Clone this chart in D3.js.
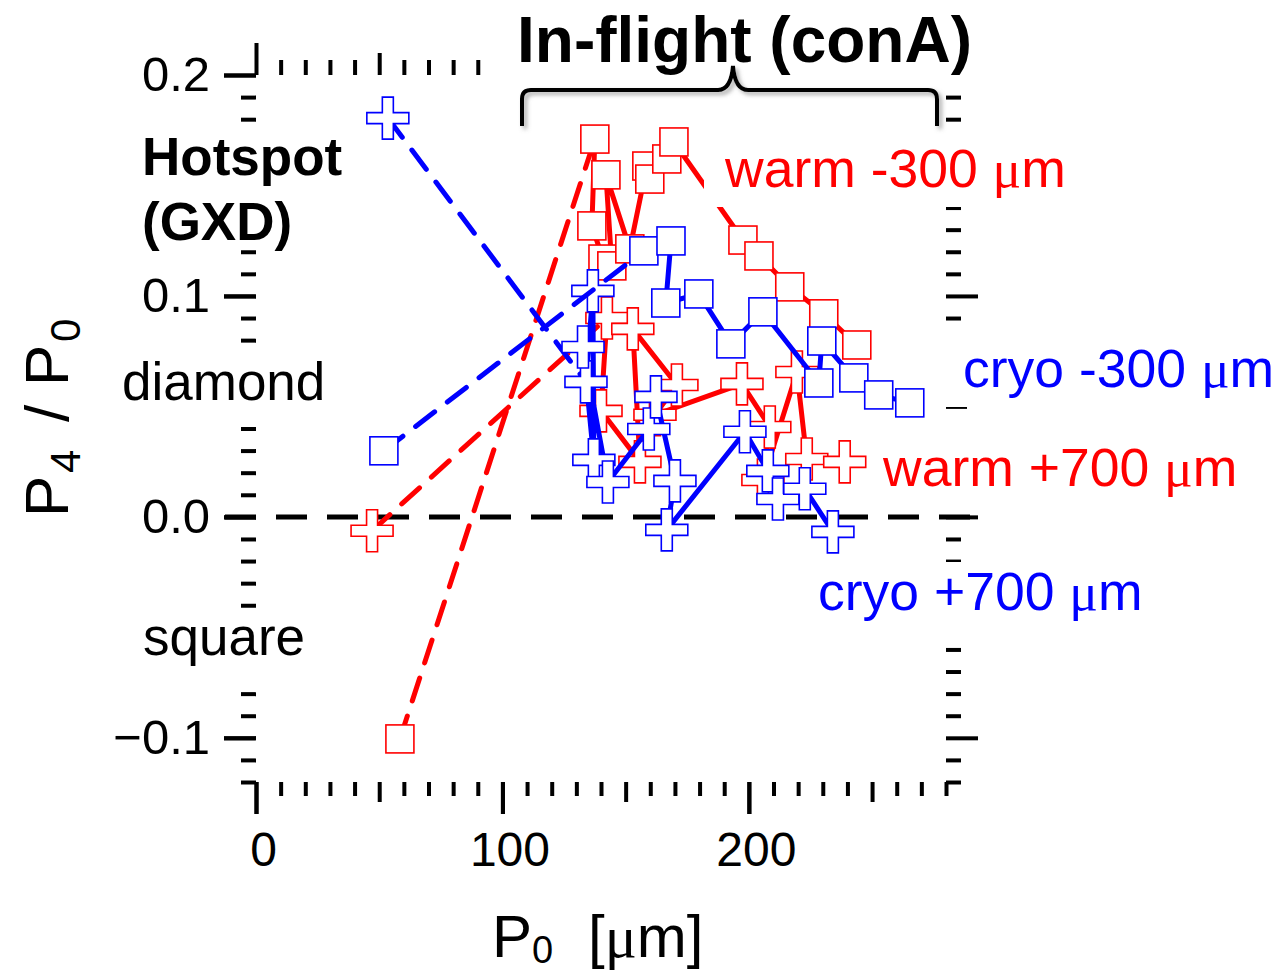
<!DOCTYPE html>
<html>
<head>
<meta charset="utf-8">
<script src="https://cdn.jsdelivr.net/npm/d3@7"></script>
<style>
  body { margin: 0; background: #fff; }
  svg { display: block; }
</style>
</head>
<body>
<svg id="chart" width="1278" height="973"></svg>
<script>
// P0 [um] and P4/P0 per series. Index 0 is the hotspot (GXD) value,
// the remaining entries are the in-flight (conA) values in time order.
const warmM300_P0 = [58.4, 137.5, 136.3, 140.8, 144.4, 142.0, 151.7, 158.6, 159.8, 166.7, 169.6, 197.6, 204.1, 216.6, 230.4, 243.8];
const warmM300_P4 = [-0.1005, 0.1710, 0.1317, 0.1167, 0.1136, 0.1548, 0.1213, 0.1588, 0.1529, 0.1620, 0.1697, 0.1253, 0.1181, 0.1041, 0.0919, 0.0778];

const warmP700_P0 = [47.1, 142.4, 140.0, 155.8, 152.9, 170.8, 161.9, 197.2, 208.5, 205.7, 219.5, 223.5, 238.9];
const warmP700_P4 = [-0.0063, 0.0900, 0.0480, 0.0249, 0.0851, 0.0597, 0.0462, 0.0602, 0.0407, 0.0167, 0.0656, 0.0262, 0.0249];

const cryoP700_P0 = [53.5, 133.9, 136.7, 137.1, 132.7, 142.8, 159.4, 162.3, 170.0, 166.7, 198.4, 207.7, 211.8, 222.7, 234.1];
const cryoP700_P4 = [0.1805, 0.0611, 0.1023, 0.0258, 0.0769, 0.0158, 0.0398, 0.0543, 0.0163, -0.0059, 0.0385, 0.0208, 0.0081, 0.0127, -0.0068];

const cryoM300_P0 = [51.9, 157.4, 168.4, 166.3, 179.7, 192.7, 205.7, 228.4, 229.6, 242.6, 252.7, 265.3];
const cryoM300_P4 = [0.0299, 0.1204, 0.1249, 0.0968, 0.1009, 0.0783, 0.0928, 0.0606, 0.0796, 0.0629, 0.0552, 0.0516];

const xTickLabels = [0, 100, 200];
const yTickLabels = [0.2, 0.1, 0.0, -0.1];

const RED = "#ff0000", BLUE = "#0000ff";

// drawing order: red below blue, cryo +700 below cryo -300
const series = [
  { name: "warm -300", color: RED,  shape: "square", xs: warmM300_P0, ys: warmM300_P4 },
  { name: "warm +700", color: RED,  shape: "cross",  xs: warmP700_P0, ys: warmP700_P4 },
  { name: "cryo +700", color: BLUE, shape: "cross",  xs: cryoP700_P0, ys: cryoP700_P4 },
  { name: "cryo -300", color: BLUE, shape: "square", xs: cryoM300_P0, ys: cryoM300_P4 }
];

const svg = d3.select("#chart");
const FONT = "'Liberation Sans', Arial, Helvetica, sans-serif";
const SERIF = "'Liberation Serif', 'Times New Roman', serif";

const x = d3.scaleLinear().domain([0, 280]).range([256, 946]);
const y = d3.scaleLinear().domain([-0.12, 0.2]).range([782, 75]);

const defs = svg.append("defs");
const shadow = defs.append("filter").attr("id", "braceShadow")
  .attr("x", "-10%").attr("y", "-30%").attr("width", "120%").attr("height", "180%");
shadow.append("feDropShadow").attr("dx", 3).attr("dy", 3).attr("stdDeviation", 2)
  .attr("flood-color", "#777").attr("flood-opacity", 0.6);

// ---------- axes: tick marks only, mirrored on all four sides ----------
const xMinor = d3.range(0, 281, 10).filter(v => v % 50 !== 0);
const xMid = [50, 150, 250];
const xMajor = [0, 100, 200];
const yMinor = d3.range(-12, 21).filter(v => v % 5 !== 0).map(v => v / 100);
const yMid = [-0.05, 0.05, 0.15];
const yMajor = [-0.1, 0, 0.1, 0.2];

const axesG = svg.append("g").attr("class", "axes");

function tickSet(axisFn, scale, values, size, transform) {
  const g = axesG.append("g").attr("transform", transform)
    .call(axisFn(scale).tickValues(values).tickSize(size).tickFormat(""));
  g.select(".domain").remove();
  g.selectAll(".tick line").attr("stroke", "#000").attr("stroke-width", 4);
  g.selectAll(".tick text").remove();
  return g;
}

// bottom
tickSet(d3.axisBottom, x, xMinor, 14, `translate(0,${y(-0.12)})`);
tickSet(d3.axisBottom, x, xMid, 20, `translate(0,${y(-0.12)})`);
tickSet(d3.axisBottom, x, xMajor, 32, `translate(0,${y(-0.12)})`);
// top
tickSet(d3.axisTop, x, xMinor, 15, `translate(0,${y(0.2)})`);
tickSet(d3.axisTop, x, xMid, 22, `translate(0,${y(0.2)})`);
tickSet(d3.axisTop, x, xMajor, 32, `translate(0,${y(0.2)})`);
// left
tickSet(d3.axisLeft, y, yMinor, 15, `translate(${x(0)},0)`);
tickSet(d3.axisLeft, y, yMid, 21, `translate(${x(0)},0)`);
tickSet(d3.axisLeft, y, yMajor, 32, `translate(${x(0)},0)`);
// right
tickSet(d3.axisRight, y, yMinor, 15, `translate(${x(280)},0)`);
tickSet(d3.axisRight, y, yMid, 21, `translate(${x(280)},0)`);
tickSet(d3.axisRight, y, yMajor, 32, `translate(${x(280)},0)`);

// tick labels
const xLab = axesG.append("g").attr("transform", `translate(0,${y(-0.12)})`)
  .call(d3.axisBottom(x).tickValues(xTickLabels).tickSize(32).tickPadding(18).tickFormat(d3.format("d")));
xLab.select(".domain").remove();
xLab.selectAll(".tick line").attr("stroke", "#000").attr("stroke-width", 4);
xLab.selectAll(".tick text").attr("font-family", FONT).attr("font-size", 48).attr("fill", "#000").attr("dx", 7);

const yLab = axesG.append("g").attr("transform", `translate(${x(0)},0)`)
  .call(d3.axisLeft(y).tickValues(yTickLabels).tickSize(32).tickPadding(14).tickFormat(d3.format(".1f")));
yLab.select(".domain").remove();
yLab.selectAll(".tick line").attr("stroke", "#000").attr("stroke-width", 4);
yLab.selectAll(".tick text").attr("font-family", FONT).attr("font-size", 49).attr("fill", "#000");

// ---------- labels with opaque white boxes (they hide the ticks behind) ----------
function boxedText(x0, y0, parts, opt) {
  const g = svg.append("g");
  const t = g.append("text").attr("x", x0).attr("y", y0)
    .attr("font-family", FONT).attr("font-size", opt.size)
    .attr("font-weight", opt.bold ? "bold" : "normal")
    .attr("fill", opt.color || "#000");
  parts.forEach(p => {
    const s = t.append("tspan").text(p.t);
    if (p.serif) s.attr("font-family", SERIF);
  });
  const b = t.node().getBBox();
  const pad = opt.pad || [6, 6, 6, 6]; // top right bottom left
  g.insert("rect", "text")
    .attr("x", b.x - pad[3]).attr("y", b.y - pad[0])
    .attr("width", b.width + pad[1] + pad[3]).attr("height", b.height + pad[0] + pad[2])
    .attr("fill", "#fff");
  return g;
}

// ---------- zero reference line ----------
svg.append("line")
  .attr("x1", x(0) - 31).attr("x2", x(280) + 32)
  .attr("y1", y(0)).attr("y2", y(0))
  .attr("stroke", "#000").attr("stroke-width", 5)
  .attr("stroke-dasharray", "31,20");

// ---------- series ----------
const line = d3.line().x(d => x(d[0])).y(d => y(d[1]));
const SQ = 28, CR = 42, ARM = 11;

function crossPath(cx, cy) {
  const a = CR / 2, b = ARM / 2;
  return `M${cx - b},${cy - a}H${cx + b}V${cy - b}H${cx + a}V${cy + b}H${cx + b}V${cy + a}` +
         `H${cx - b}V${cy + b}H${cx - a}V${cy - b}H${cx - b}Z`;
}

series.forEach(s => {
  const pts = s.xs.map((v, i) => [v, s.ys[i]]);
  const g = svg.append("g").attr("class", "series");
  // hotspot to first in-flight point
  g.append("path").attr("d", line(pts.slice(0, 2)))
    .attr("fill", "none").attr("stroke", s.color).attr("stroke-width", 5)
    .attr("stroke-dasharray", "24,16").attr("stroke-linecap", "round");
  // in-flight trajectory
  g.append("path").attr("d", line(pts.slice(1)))
    .attr("fill", "none").attr("stroke", s.color).attr("stroke-width", 5)
    .attr("stroke-linejoin", "round");
  if (s.shape === "square") {
    g.selectAll("rect").data(pts).join("rect")
      .attr("x", d => x(d[0]) - SQ / 2).attr("y", d => y(d[1]) - SQ / 2)
      .attr("width", SQ).attr("height", SQ)
      .attr("fill", "#fff").attr("stroke", s.color).attr("stroke-width", 1.6);
  } else {
    g.selectAll("path.m").data(pts).join("path").attr("class", "m")
      .attr("d", d => crossPath(x(d[0]), y(d[1])))
      .attr("fill", "#fff").attr("stroke", s.color).attr("stroke-width", 1.6);
  }
});

// ---------- annotations ----------
boxedText(517, 62, [{ t: "In-flight (conA)" }], { size: 64, bold: true, pad: [0, 20, 6, 22] });

svg.append("path")
  .attr("d", "M522,126 V99 Q522,90 531,90 H718 Q731,90 733,66 Q735,90 748,90 H928 Q937,90 937,99 V126")
  .attr("fill", "none").attr("stroke", "#000").attr("stroke-width", 4)
  .attr("filter", "url(#braceShadow)");

boxedText(142, 175, [{ t: "Hotspot" }], { size: 53, bold: true, pad: [4, 4, 14, 4] });
boxedText(142, 240, [{ t: "(GXD)" }], { size: 53, bold: true, pad: [0, 4, -6, 4] });
boxedText(122, 400, [{ t: "diamond" }], { size: 53, pad: [0, 4, 2, 4] });
boxedText(143, 655, [{ t: "square" }], { size: 53, pad: [-4, 4, 8, 4] });

boxedText(725, 187, [{ t: "warm -300 " }, { t: "\u03bc", serif: true }, { t: "m" }], { size: 53.5, color: RED, pad: [2, 6, 8, 20] });
boxedText(963, 387, [{ t: "cryo -300 " }, { t: "\u03bc", serif: true }, { t: "m" }], { size: 53.5, color: BLUE, pad: [2, 6, 8, 20] });
boxedText(883, 486, [{ t: "warm +700 " }, { t: "\u03bc", serif: true }, { t: "m" }], { size: 53.5, color: RED, pad: [12, 6, 2, 8] });
boxedText(818, 610, [{ t: "cryo +700 " }, { t: "\u03bc", serif: true }, { t: "m" }], { size: 53.5, color: BLUE, pad: [0, 6, 20, 8] });

// axis titles
const yt = svg.append("text").attr("transform", "translate(68,517) rotate(-90)")
  .attr("font-family", FONT).attr("font-size", 62).attr("fill", "#000");
yt.append("tspan").text("P").attr("x", 0);
yt.append("tspan").text("4").attr("font-size", 42).attr("x", 44).attr("dy", 12);
yt.append("tspan").text("/").attr("x", 95).attr("dy", -12);
yt.append("tspan").text("P").attr("x", 131);
yt.append("tspan").text("0").attr("font-size", 42).attr("x", 175).attr("dy", 12);

const xt = svg.append("text").attr("x", 492).attr("y", 957)
  .attr("font-family", FONT).attr("font-size", 60).attr("fill", "#000");
xt.append("tspan").text("P");
xt.append("tspan").text("0").attr("font-size", 38).attr("dy", 6);
xt.append("tspan").text("[").attr("x", 588).attr("dy", -6);
xt.append("tspan").text("\u03bc").attr("font-family", SERIF);
xt.append("tspan").text("m]");
</script>
</body>
</html>
